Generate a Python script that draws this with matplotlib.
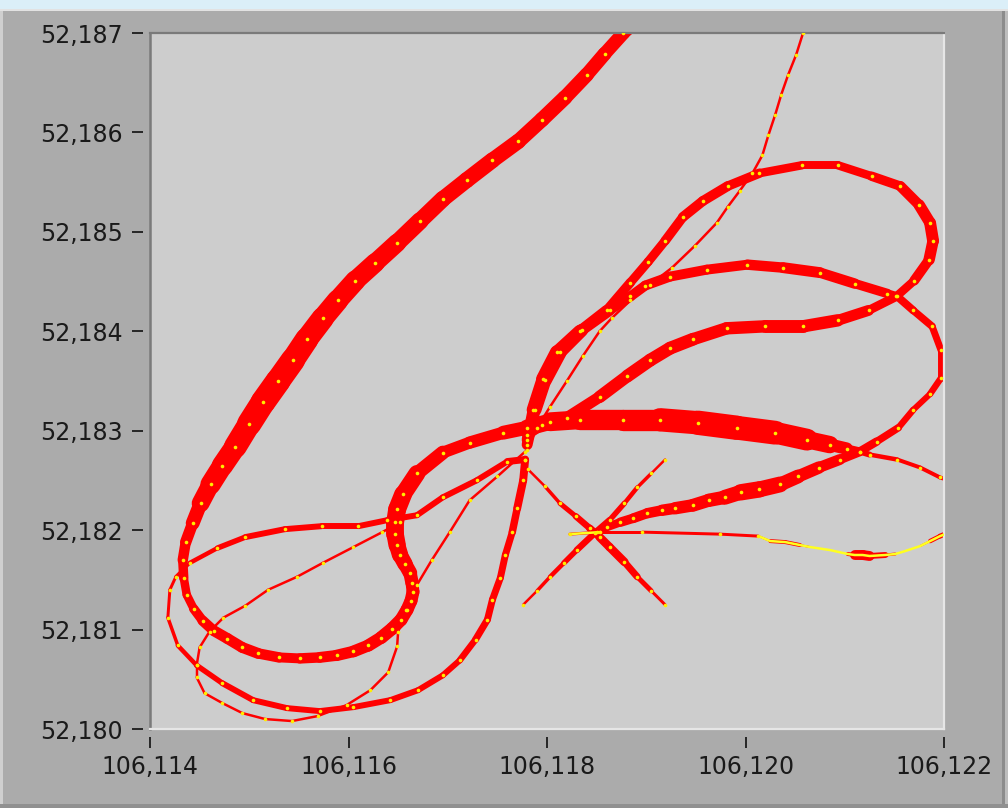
import numpy as np
import matplotlib
matplotlib.use("Agg")
import matplotlib.pyplot as plt
from matplotlib.collections import LineCollection
from matplotlib.patches import Rectangle
from matplotlib.lines import Line2D
from matplotlib.ticker import FuncFormatter

# GPS track pieces (longitude, latitude) and the spread of each fix (1e-5 deg)
t1_lon = [106.11894, 106.11877, 106.11858, 106.11840, 106.11818, 106.11795, 106.11771, 106.11745, 106.11719, 106.11695,
          106.11672, 106.11649, 106.11627, 106.11607, 106.11589, 106.11574, 106.11558, 106.11544, 106.11529, 106.11514,
          106.11500, 106.11486, 106.11473, 106.11461, 106.11451, 106.11443, 106.11436, 106.11433, 106.11434, 106.11437,
          106.11444, 106.11453, 106.11464, 106.11478, 106.11493, 106.11509, 106.11530, 106.11551, 106.11571, 106.11588,
          106.11605, 106.11620, 106.11633, 106.11644, 106.11653, 106.11659, 106.11663, 106.11665, 106.11664, 106.11662,
          106.11657, 106.11652, 106.11649, 106.11647, 106.11647, 106.11649, 106.11655, 106.11669, 106.11695, 106.11722,
          106.11756, 106.11780, 106.11803, 106.11833, 106.11877, 106.11914, 106.11952, 106.11991, 106.12030, 106.12062,
          106.12085, 106.12102, 106.12115, 106.12125, 106.12153, 106.12176, 106.12196, 106.12211]
t1_lat = [52.18715, 52.18700, 52.18679, 52.18658, 52.18635, 52.18613, 52.18591, 52.18572, 52.18552, 52.18533,
          52.18511, 52.18489, 52.18469, 52.18451, 52.18431, 52.18413, 52.18392, 52.18371, 52.18350, 52.18329,
          52.18307, 52.18284, 52.18265, 52.18246, 52.18227, 52.18207, 52.18188, 52.18170, 52.18152, 52.18135,
          52.18121, 52.18109, 52.18099, 52.18091, 52.18082, 52.18076, 52.18072, 52.18071, 52.18072, 52.18074,
          52.18078, 52.18084, 52.18092, 52.18101, 52.18110, 52.18120, 52.18129, 52.18138, 52.18147, 52.18157,
          52.18166, 52.18175, 52.18185, 52.18196, 52.18208, 52.18221, 52.18236, 52.18257, 52.18278, 52.18288,
          52.18298, 52.18303, 52.18309, 52.18311, 52.18311, 52.18311, 52.18308, 52.18303, 52.18298, 52.18291,
          52.18286, 52.18282, 52.18279, 52.18276, 52.18271, 52.18263, 52.18253, 52.18248]
t1_spread = [13, 13, 14, 14, 15, 15, 15, 16, 16, 16, 17, 18, 19, 20, 21, 22, 23, 24, 25, 25,
             24, 22, 21, 20, 16, 12, 11, 10, 9, 8, 9, 10, 11, 11, 11, 11, 10, 10, 11, 11,
             12, 12, 13, 13, 13, 13, 13, 13, 13, 14, 15, 16, 17, 18, 18, 18, 18, 16, 12, 12,
             13, 15, 18, 20, 21, 22, 25, 24, 24, 20, 15, 10, 7, 5, 4, 4, 4, 4]

t2_lon = [106.11780, 106.11786, 106.11796, 106.11810, 106.11833, 106.11860, 106.11884, 106.11902, 106.11919, 106.11937,
          106.11957, 106.11982, 106.12014, 106.12057, 106.12093, 106.12127, 106.12156, 106.12175, 106.12186, 106.12189,
          106.12185, 106.12170, 106.12152, 106.12124, 106.12093, 106.12058, 106.12020, 106.11981, 106.11947, 106.11924,
          106.11904, 106.11881, 106.11853, 106.11820, 106.11795, 106.11780]
t2_lat = [52.18291, 52.18321, 52.18352, 52.18379, 52.18400, 52.18421, 52.18449, 52.18470, 52.18491, 52.18515,
          52.18531, 52.18546, 52.18559, 52.18567, 52.18567, 52.18556, 52.18546, 52.18527, 52.18509, 52.18491,
          52.18472, 52.18451, 52.18435, 52.18421, 52.18411, 52.18405, 52.18405, 52.18403, 52.18392, 52.18383,
          52.18371, 52.18355, 52.18334, 52.18313, 52.18306, 52.18296]
t2_spread = [10, 12, 14, 14, 12, 10, 9, 9, 9, 10, 10, 10, 9, 8, 8, 9, 10, 11, 12, 12,
             11, 9, 8, 10, 12, 13, 13, 12, 13, 13, 13, 13, 12, 11, 11, 10]

t3_lon = [106.11780, 106.11788, 106.11798, 106.11813, 106.11835, 106.11863, 106.11884, 106.11899, 106.11924, 106.11961,
          106.12002, 106.12038, 106.12075, 106.12110, 106.12143, 106.12153, 106.12169, 106.12188, 106.12197, 106.12197,
          106.12186, 106.12169, 106.12154, 106.12132, 106.12115, 106.12095, 106.12074, 106.12053, 106.12035, 106.12014,
          106.11995, 106.11979, 106.11963, 106.11947, 106.11929, 106.11916, 106.11901, 106.11887, 106.11874, 106.11860,
          106.11850]
t3_lat = [52.18286, 52.18321, 52.18351, 52.18379, 52.18401, 52.18421, 52.18435, 52.18446, 52.18455, 52.18462,
          52.18467, 52.18464, 52.18459, 52.18448, 52.18438, 52.18435, 52.18421, 52.18405, 52.18381, 52.18353,
          52.18337, 52.18321, 52.18303, 52.18289, 52.18279, 52.18271, 52.18263, 52.18254, 52.18246, 52.18241,
          52.18238, 52.18233, 52.18230, 52.18225, 52.18222, 52.18220, 52.18217, 52.18212, 52.18208, 52.18203,
          52.18198]
t3_spread = [10, 12, 14, 14, 12, 10, 10, 10, 10, 10, 10, 11, 11, 10, 9, 8, 8, 7, 7, 7,
             6, 6, 7, 8, 9, 10, 12, 13, 15, 17, 16, 14, 13, 13, 12, 11, 10, 10, 9, 8, 6]

t4_lon = [106.12065, 106.12058, 106.12051, 106.12043, 106.12036, 106.12030, 106.12023, 106.12017, 106.12007, 106.11994,
          106.11982, 106.11971, 106.11949, 106.11926, 106.11904, 106.11884, 106.11865, 106.11853, 106.11836, 106.11820,
          106.11803, 106.11790, 106.11780]
t4_lat = [52.18715, 52.18700, 52.18678, 52.18658, 52.18638, 52.18618, 52.18597, 52.18577, 52.18559, 52.18541,
          52.18525, 52.18509, 52.18486, 52.18464, 52.18447, 52.18431, 52.18413, 52.18400, 52.18375, 52.18350,
          52.18324, 52.18303, 52.18281]
t4_spread = 2.5

t5_lon = [106.11778, 106.11760, 106.11729, 106.11695, 106.11669, 106.11639, 106.11610, 106.11573, 106.11536, 106.11496,
          106.11468, 106.11440, 106.11426, 106.11420, 106.11418, 106.11428, 106.11447, 106.11473, 106.11504, 106.11538,
          106.11571, 106.11605, 106.11642, 106.11670, 106.11695, 106.11712, 106.11728, 106.11740, 106.11745, 106.11753,
          106.11758, 106.11765, 106.11770, 106.11776, 106.11778]
t5_lat = [52.18271, 52.18269, 52.18250, 52.18233, 52.18215, 52.18210, 52.18204, 52.18204, 52.18201, 52.18193,
          52.18182, 52.18167, 52.18153, 52.18140, 52.18112, 52.18084, 52.18064, 52.18046, 52.18029, 52.18021,
          52.18018, 52.18022, 52.18029, 52.18039, 52.18054, 52.18069, 52.18090, 52.18110, 52.18130, 52.18152,
          52.18175, 52.18198, 52.18222, 52.18250, 52.18271]
t5_spread = [8, 6, 6, 6, 6, 6, 6, 6, 6, 6, 5, 4, 3, 3, 3, 4, 5, 6, 6, 6,
             6, 6, 6, 6, 6, 6, 7, 7, 7, 7, 7, 7, 8, 8, 8]

t6_lon = [106.11778, 106.11750, 106.11722, 106.11702, 106.11684, 106.11669, 106.11658, 106.11650, 106.11649, 106.11640,
          106.11622, 106.11598, 106.11569, 106.11543, 106.11516, 106.11493, 106.11473, 106.11455, 106.11447, 106.11447,
          106.11450, 106.11460, 106.11474, 106.11496, 106.11519, 106.11548, 106.11574, 106.11605, 106.11634, 106.11652]
t6_lat = [52.18279, 52.18254, 52.18230, 52.18198, 52.18170, 52.18145, 52.18120, 52.18098, 52.18083, 52.18057,
          52.18039, 52.18024, 52.18013, 52.18008, 52.18010, 52.18016, 52.18026, 52.18036, 52.18052, 52.18064,
          52.18082, 52.18098, 52.18112, 52.18124, 52.18140, 52.18153, 52.18167, 52.18183, 52.18198, 52.18208]
t6_spread = 2.5

x1_lon = [106.11781, 106.11798, 106.11813, 106.11829, 106.11843, 106.11853, 106.11863, 106.11878, 106.11891, 106.11905, 106.11919]
x1_lat = [52.18261, 52.18244, 52.18227, 52.18214, 52.18202, 52.18193, 52.18183, 52.18168, 52.18153, 52.18139, 52.18125]
x1_spread = [2, 3, 4, 6, 7, 8, 9, 8, 6, 4, 2]

x2_lon = [106.11776, 106.11790, 106.11803, 106.11817, 106.11830, 106.11848, 106.11863, 106.11878, 106.11891, 106.11905, 106.11919]
x2_lat = [52.18125, 52.18139, 52.18153, 52.18167, 52.18180, 52.18197, 52.18210, 52.18227, 52.18243, 52.18257, 52.18271]
x2_spread = [2, 3, 4, 5, 6, 7, 6, 5, 4, 3, 2]

h_lon = [106.11823, 106.11853, 106.11896, 106.11974, 106.12013]
h_lat = [52.18196, 52.18198, 52.18198, 52.18196, 52.18194]
h_spread = 3

tail_lon = [106.12013, 106.12025, 106.12040, 106.12055, 106.12065, 106.12085, 106.12103, 106.12110, 106.12118,
            106.12125, 106.12141, 106.12151, 106.12161, 106.12176, 106.12186, 106.12196, 106.12206]
tail_lat = [52.18194, 52.18189, 52.18188, 52.18185, 52.18183, 52.18180, 52.18176, 52.18175, 52.18175,
            52.18174, 52.18175, 52.18176, 52.18179, 52.18184, 52.18189, 52.18194, 52.18198]
tail_spread = [0, 4, 4, 4, 0, 0, 0, 8, 12, 8, 4, 2, 0, 0, 4, 5, 5]

x_ticks = [106.114, 106.116, 106.118, 106.120, 106.122]
y_ticks = [52.180, 52.181, 52.182, 52.183, 52.184, 52.185, 52.186, 52.187]

W, H = 1008, 808
fig = plt.figure(figsize=(W / 100, H / 100), dpi=100, facecolor="#ababab")


def fig_rect(x, y, w, h, color):
    # rectangle given in screen pixels (origin top-left)
    fig.add_artist(Rectangle((x / W, 1 - (y + h) / H), w / W, h / H,
                             transform=fig.transFigure, color=color, lw=0, zorder=0))


fig_rect(0, 0, W, 9, "#dbeff8")
fig_rect(0, 9, W, 2, "#e2e2e2")
fig_rect(0, 11, 3, H - 11, "#cfcfcf")
fig_rect(1002, 11, 3, H - 11, "#8c8c8c")
fig_rect(1005, 11, 3, H - 11, "#bdbdbd")
fig_rect(0, 804, W, 4, "#909090")

ax = fig.add_axes([150 / W, (H - 729) / H, 794 / W, 696 / H])
ax.set_facecolor("#cdcdcd")
ax.set_xlim(106.114, 106.122)
ax.set_ylim(52.180, 52.187)

# width of 1e-5 deg on screen, in points
p0 = ax.transData.transform((106.114, 52.180))
p1 = ax.transData.transform((106.114 + 1e-5, 52.180))
unit_pt = (p1[0] - p0[0]) * 72 / fig.dpi


def draw_track(lon, lat, spread):
    pts = np.column_stack([lon, lat])
    w = np.broadcast_to(np.asarray(spread, float), (len(pts),))
    segs = np.stack([pts[:-1], pts[1:]], axis=1)
    lw = (w[:-1] + w[1:]) / 2 * unit_pt
    keep = lw > 0
    lc = LineCollection(segs[keep], linewidths=lw[keep], colors="#ff0000",
                        capstyle="round", joinstyle="round", zorder=2)
    ax.add_collection(lc)


tracks = [
    (t4_lon, t4_lat, t4_spread),
    (t6_lon, t6_lat, t6_spread),
    (t5_lon, t5_lat, t5_spread),
    (x1_lon, x1_lat, x1_spread),
    (x2_lon, x2_lat, x2_spread),
    (h_lon, h_lat, h_spread),
    (tail_lon, tail_lat, tail_spread),
    (t3_lon, t3_lat, t3_spread),
    (t2_lon, t2_lat, t2_spread),
    (t1_lon, t1_lat, t1_spread),
]
for lon, lat, spread in tracks:
    draw_track(lon, lat, spread)

# yellow stretch of the last track
ax.plot(tail_lon, tail_lat, color="#ffff20", lw=1.8, zorder=3, solid_capstyle="round")
ax.plot(h_lon[:2], h_lat[:2], color="#ffff20", lw=1.8, zorder=3)

# fixes
for lon, lat, spread in tracks[:-4] + tracks[-3:]:
    ax.plot(lon, lat, ls="none", marker="o", ms=2.6, mew=0, color="#ffee00", zorder=4)

# frame: dark top/left, light bottom/right
ax.spines["top"].set_color("#7a7a7a")
ax.spines["top"].set_linewidth(1.6)
ax.spines["right"].set_color("#e6e6e6")
ax.spines["right"].set_linewidth(1.6)
for side in ["left", "bottom"]:
    ax.spines[side].set_visible(False)
ax.spines["left"].set_position(("outward", 5))
ax.spines["bottom"].set_position(("outward", 5.8))
ax.add_line(Line2D([0, 0], [0, 1], transform=ax.transAxes, color="#7a7a7a", lw=1.8, clip_on=False))
ax.add_line(Line2D([0, 1], [0, 0], transform=ax.transAxes, color="#e6e6e6", lw=1.6, clip_on=False))

fmt = FuncFormatter(lambda v, p: f"{v:.3f}".replace(".", ","))
ax.set_xticks(x_ticks)
ax.set_yticks(y_ticks)
ax.xaxis.set_major_formatter(fmt)
ax.yaxis.set_major_formatter(fmt)
ax.tick_params(axis="both", direction="out", length=8, width=1.4, color="#262626",
               labelsize=17, labelcolor="#1a1a1a")
ax.tick_params(axis="y", pad=6.5)
ax.tick_params(axis="x", pad=5)

fig.savefig("out.png", dpi=100, facecolor=fig.get_facecolor())
plt.close(fig)
